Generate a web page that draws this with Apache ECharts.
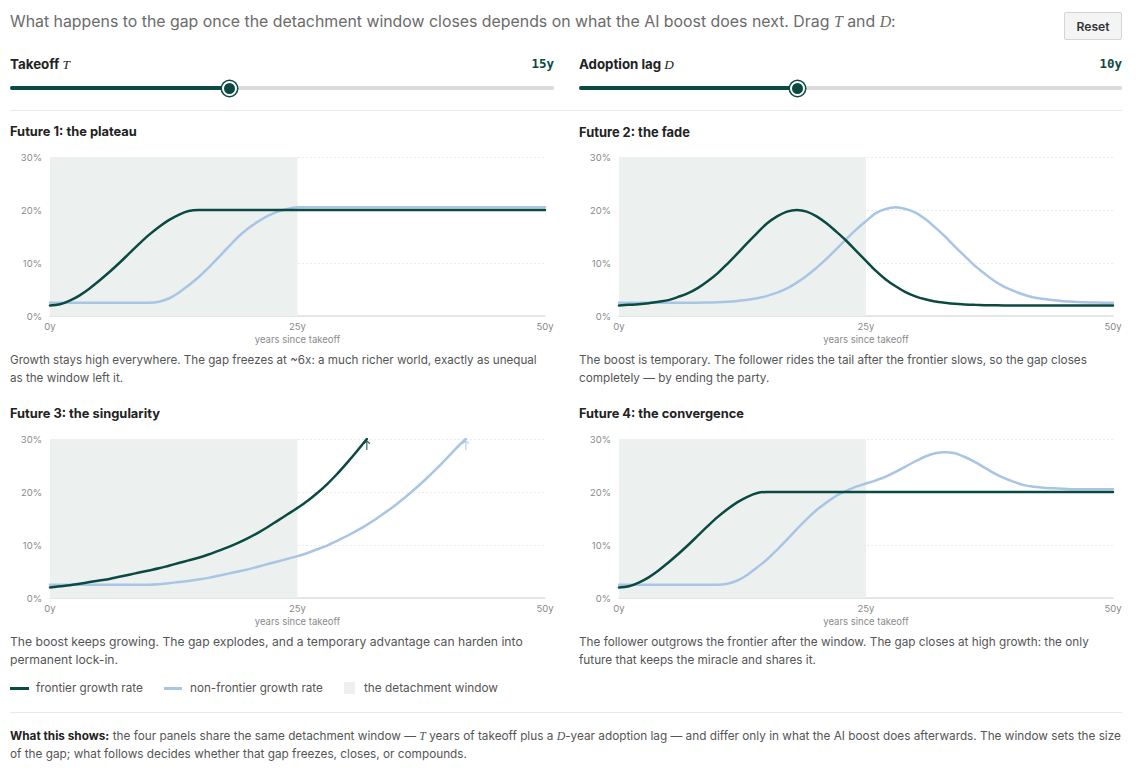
<!DOCTYPE html>
<html>
<head>
<meta charset="utf-8">
<script src="https://cdn.jsdelivr.net/npm/echarts@6/dist/echarts.min.js"></script>
<style>
  html, body { margin:0; padding:0; background:#fff; }
  body { width:1143px; height:768px; position:relative; overflow:hidden; font-family: Inter, Roboto, "Liberation Sans", sans-serif; }
  #chart { position:absolute; left:0; top:0; width:1143px; height:768px; }
  .t { position:absolute; white-space:nowrap; }
  .m { font-family: "Liberation Serif", "DejaVu Serif", serif; font-style:italic; font-weight:400; }
  .hdr { left:10px; top:12px; line-height:20px; font-size:15px; color:#6b6b6b; }
  .lab { line-height:16px; font-size:12px; font-weight:700; color:#222; }
  .val { line-height:16px; font-size:12.5px; font-weight:700; color:#0b4a42; font-family:"DejaVu Sans Mono","Liberation Mono",monospace; text-align:right; }
  .track { position:absolute; height:4px; background:#dadada; border-radius:2px; top:86px; }
  .fill { position:absolute; height:4px; background:#0b4a42; border-radius:2px; top:86px; }
  .thumb { position:absolute; width:15px; height:15px; box-sizing:border-box; border-radius:50%; background:#0b4a42; border:2px solid #fff; box-shadow:0 0 0 1.5px #0b4a42; top:80.5px; }
  .sep { position:absolute; left:10px; width:1112px; height:1px; background:#e8e8e8; }
  .ttl { line-height:16px; font-size:12px; font-weight:700; color:#222; }
  .desc { line-height:18px; font-size:11px; color:#555; }
  .leg { line-height:16px; font-size:11px; color:#555; top:680px; }
  .sw { position:absolute; }
  .btn { position:absolute; left:1064px; top:12px; width:58px; height:28px; box-sizing:border-box; background:#f4f4f4; border:1px solid #d4d4d4; border-radius:2px; color:#333; text-align:center; line-height:25px; }
  .btn span { font-size:11.5px; font-weight:600; }
  .foot { left:10px; top:727px; line-height:18px; font-size:11px; color:#555; }
  .foot b { color:#222; }
</style>
</head>
<body>
<div id="chart"></div>

<div class="t hdr" data-w="886">What happens to the gap once the detachment window closes depends on what the AI boost does next. Drag <span class="m">T</span> and <span class="m">D</span>:</div>
<div class="btn"><span class="t" style="position:static" data-w="33">Reset</span></div>

<div class="t lab" data-w="60" style="left:10px; top:56px;">Takeoff <span class="m">T</span></div>
<div class="t val" style="right:589px; top:56px;">15y</div>
<div class="track" style="left:10px; width:544px;"></div>
<div class="fill" style="left:10px; width:219px;"></div>
<div class="thumb" style="left:221.5px;"></div>

<div class="t lab" data-w="95" style="left:579px; top:56px;">Adoption lag <span class="m">D</span></div>
<div class="t val" style="right:21px; top:56px;">10y</div>
<div class="track" style="left:579px; width:543px;"></div>
<div class="fill" style="left:579px; width:218px;"></div>
<div class="thumb" style="left:789.5px;"></div>

<div class="sep" style="top:110px;"></div>

<div class="t ttl" data-w="127" style="left:10px; top:124px;">Future 1: the plateau</div>
<div class="t ttl" data-w="111" style="left:579px; top:124px;">Future 2: the fade</div>
<div class="t ttl" data-w="150" style="left:10px; top:406px;">Future 3: the singularity</div>
<div class="t ttl" data-w="165" style="left:579px; top:406px;">Future 4: the convergence</div>

<div class="t desc" data-w="527" style="left:10px; top:351px;">Growth stays high everywhere. The gap freezes at ~6x: a much richer world, exactly as unequal<br>as the window left it.</div>
<div class="t desc" data-w="508" style="left:579px; top:351px;">The boost is temporary. The follower rides the tail after the frontier slows, so the gap closes<br>completely — by ending the party.</div>
<div class="t desc" data-w="513" style="left:10px; top:633px;">The boost keeps growing. The gap explodes, and a temporary advantage can harden into<br>permanent lock-in.</div>
<div class="t desc" data-w="510" style="left:579px; top:633px;">The follower outgrows the frontier after the window. The gap closes at high growth: the only<br>future that keeps the miracle and shares it.</div>

<div class="sw" style="left:10px; top:686.5px; width:19px; height:3px; background:#0b4a42;"></div>
<div class="t leg" data-w="107" style="left:36px;">frontier growth rate</div>
<div class="sw" style="left:164px; top:686.5px; width:18px; height:3px; background:#a9c5e4;"></div>
<div class="t leg" data-w="133" style="left:190px;">non-frontier growth rate</div>
<div class="sw" style="left:344px; top:682px; width:11px; height:12px; background:#ecf1f0;"></div>
<div class="t leg" data-w="134" style="left:364px;">the detachment window</div>

<div class="sep" style="top:712px;"></div>
<div class="t foot" data-w="1112"><b>What this shows:</b> the four panels share the same detachment window — <span class="m">T</span> years of takeoff plus a <span class="m">D</span>-year adoption lag — and differ only in what the AI boost does afterwards. The window sets the size<br>of the gap; what follows decides whether that gap freezes, closes, or compounds.</div>

<script>
// ---- data (growth rates in %) ----
const takeoffT = 15;
const adoptionD = 10;
const years = [0,1,2,3,4,5,6,7,8,9,10,11,12,13,14,15,16,17,18,19,20,21,22,23,24,25,26,27,28,29,30,31,32,33,34,35,36,37,38,39,40,41,42,43,44,45,46,47,48,49,50];
const yTicks = [0,10,20,30];
const xTicks = [0,25,50];

// Future 1: the plateau
const f1Frontier = [2.0,2.2,2.9,3.9,5.2,6.7,8.3,10.0,11.8,13.6,15.3,16.8,18.1,19.1,19.8,20.0,20.0,20.0,20.0,20.0,20.0,20.0,20.0,20.0,20.0,20.0,20.0,20.0,20.0,20.0,20.0,20.0,20.0,20.0,20.0,20.0,20.0,20.0,20.0,20.0,20.0,20.0,20.0,20.0,20.0,20.0,20.0,20.0,20.0,20.0,20.0];
const f1Other = [2.5,2.5,2.5,2.5,2.5,2.5,2.5,2.5,2.5,2.5,2.5,2.7,3.3,4.4,5.8,7.3,9.1,11.0,13.0,14.9,16.5,17.8,18.9,19.7,20.2,20.5,20.5,20.5,20.5,20.5,20.5,20.5,20.5,20.5,20.5,20.5,20.5,20.5,20.5,20.5,20.5,20.5,20.5,20.5,20.5,20.5,20.5,20.5,20.5,20.5,20.5];

// Future 2: the fade
const f2Frontier = [2.0,2.1,2.2,2.4,2.7,3.0,3.6,4.3,5.3,6.6,8.1,9.9,11.8,13.8,15.7,17.5,18.8,19.7,20.0,19.7,18.8,17.5,15.9,14.2,12.3,10.4,8.5,6.9,5.6,4.5,3.7,3.15,2.75,2.5,2.3,2.18,2.1,2.05,2.02,2.0,2.0,2.0,2.0,2.0,2.0,2.0,2.0,2.0,2.0,2.0,2.0];
const f2Other = [2.5,2.5,2.5,2.5,2.5,2.5,2.5,2.5,2.5,2.55,2.6,2.7,2.85,3.05,3.35,3.8,4.4,5.2,6.3,7.6,9.1,10.8,12.6,14.5,16.3,17.9,19.4,20.2,20.5,20.2,19.5,18.3,16.7,15.0,13.1,11.3,9.5,8.0,6.6,5.5,4.7,4.0,3.5,3.2,2.95,2.8,2.7,2.6,2.55,2.5,2.5];

// Future 3: the singularity (lines stop where they leave the 30% ceiling)
const f3Frontier = [2.0,2.2,2.4,2.7,3.0,3.3,3.6,4.0,4.4,4.8,5.2,5.6,6.1,6.6,7.1,7.6,8.2,8.9,9.6,10.4,11.3,12.3,13.4,14.6,15.8,17.0,18.3,19.8,21.5,23.4,25.5,27.7,30.0,null,null,null,null,null,null,null,null,null,null,null,null,null,null,null,null,null,null];
const f3Other = [2.5,2.5,2.5,2.5,2.5,2.5,2.5,2.5,2.5,2.5,2.5,2.6,2.8,3.0,3.2,3.5,3.8,4.2,4.6,5.0,5.4,5.9,6.4,6.9,7.4,7.9,8.5,9.2,9.9,10.8,11.7,12.7,13.8,15.0,16.3,17.7,19.2,20.8,22.5,24.3,26.2,28.2,30.0,null,null,null,null,null,null,null,null];

// Future 4: the convergence
const f4Frontier = [2.0,2.2,2.9,3.9,5.2,6.7,8.3,10.0,11.8,13.6,15.3,16.8,18.1,19.1,19.8,20.0,20.0,20.0,20.0,20.0,20.0,20.0,20.0,20.0,20.0,20.0,20.0,20.0,20.0,20.0,20.0,20.0,20.0,20.0,20.0,20.0,20.0,20.0,20.0,20.0,20.0,20.0,20.0,20.0,20.0,20.0,20.0,20.0,20.0,20.0,20.0];
const f4Other = [2.5,2.5,2.5,2.5,2.5,2.5,2.5,2.5,2.5,2.5,2.5,2.7,3.3,4.4,5.8,7.3,9.1,11.0,13.0,14.9,16.6,18.0,19.3,20.2,21.0,21.6,22.2,22.9,23.8,24.8,25.8,26.7,27.3,27.5,27.3,26.6,25.7,24.6,23.5,22.6,21.9,21.3,21.0,20.8,20.7,20.6,20.5,20.5,20.5,20.5,20.5];

const panels = [
  { frontier: f1Frontier, other: f1Other },
  { frontier: f2Frontier, other: f2Other },
  { frontier: f3Frontier, other: f3Other },
  { frontier: f4Frontier, other: f4Other }
];

// ---- fit HTML text widths to the reference layout ----
document.querySelectorAll('[data-w]').forEach(el => {
  const target = parseFloat(el.getAttribute('data-w'));
  const w = el.getBoundingClientRect().width;
  const fs = parseFloat(getComputedStyle(el).fontSize);
  if (w > 0) el.style.fontSize = (fs * target / w).toFixed(2) + 'px';
});

// ---- styling ----
const DARK = '#0b4a42';
const LIGHT = '#a9c5e4';
const SHADE = '#ecf1f0';
const FONT = 'Inter, Roboto, "Liberation Sans", sans-serif';
const AX = '#8a8a8a';
const yMax = yTicks[yTicks.length - 1];
const windowEnd = takeoffT + adoptionD;

const gridPos = [
  { left: 50,  top: 157, width: 495, height: 159 },
  { left: 619, top: 157, width: 494, height: 159 },
  { left: 50,  top: 439, width: 495, height: 159 },
  { left: 619, top: 439, width: 494, height: 159 }
];

const arrowPath = 'path://M4,0 L8,4 L7,5 L4.7,2.7 L4.7,12 L3.3,12 L3.3,2.7 L1,5 L0,4 Z';

const pairs = arr => years.map((y, i) => [y, arr[i]]);

const grid = [], xAxis = [], yAxis = [], series = [];
panels.forEach((p, i) => {
  grid.push(Object.assign({ containLabel: false }, gridPos[i]));
  xAxis.push({
    type: 'value', gridIndex: i, min: xTicks[0], max: xTicks[xTicks.length - 1], interval: xTicks[1] - xTicks[0],
    axisLine: { show: true, lineStyle: { color: '#dedede', width: 1.5 } },
    axisTick: { show: false }, splitLine: { show: false },
    axisLabel: { formatter: '{value}y', color: AX, fontSize: 9.5, margin: 5, fontFamily: FONT },
    name: 'years since takeoff', nameLocation: 'middle', nameGap: 18,
    nameTextStyle: { color: AX, fontSize: 9.5, fontFamily: FONT }
  });
  yAxis.push({
    type: 'value', gridIndex: i, min: yTicks[0], max: yMax, interval: yTicks[1] - yTicks[0],
    axisLine: { show: false }, axisTick: { show: false },
    splitLine: { show: true, lineStyle: { color: '#ebebeb', width: 1, type: [2, 2] } },
    axisLabel: { formatter: '{value}%', color: AX, fontSize: 9.5, margin: 8, fontFamily: FONT }
  });
  series.push({
    type: 'line', xAxisIndex: i, yAxisIndex: i, data: pairs(p.other),
    showSymbol: false, smooth: 0.35, z: 2,
    lineStyle: { color: LIGHT, width: 2.5, cap: 'round' },
    markArea: { silent: true, itemStyle: { color: SHADE }, data: [[{ xAxis: 0 }, { xAxis: windowEnd }]] }
  });
  series.push({
    type: 'line', xAxisIndex: i, yAxisIndex: i, data: pairs(p.frontier),
    showSymbol: false, smooth: 0.35, z: 3,
    lineStyle: { color: DARK, width: 2.5, cap: 'round' }
  });
  // ceiling arrows where a line leaves the top of the axis
  [[p.frontier, DARK], [p.other, LIGHT]].forEach(([arr, col]) => {
    const k = arr.findIndex(v => v !== null && v >= yMax);
    if (k >= 0) {
      series.push({
        type: 'scatter', xAxisIndex: i, yAxisIndex: i, data: [[years[k], yMax]],
        symbol: arrowPath, symbolSize: [7, 10], symbolOffset: [0, 6], clip: false, z: 4,
        itemStyle: { color: col }, silent: true
      });
    }
  });
});

const chart = echarts.init(document.getElementById('chart'), null, { renderer: 'svg' });
chart.setOption({ animation: false, grid, xAxis, yAxis, series });
</script>
</body>
</html>
